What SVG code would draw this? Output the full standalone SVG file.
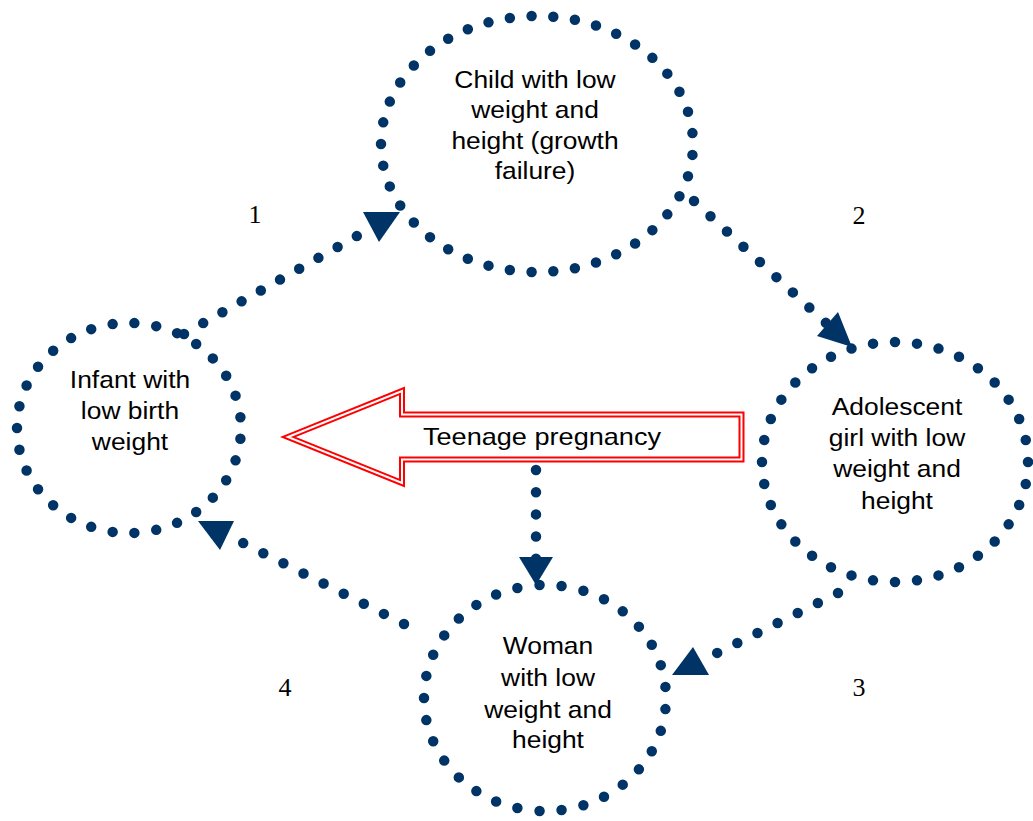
<svg xmlns="http://www.w3.org/2000/svg" width="1033" height="821" viewBox="0 0 1033 821">
<style>
.dot{fill:none;stroke:#003366;stroke-width:10.5;stroke-linecap:round;stroke-dasharray:0 1}
.head{fill:#003366;stroke:none}
.lbl{font-family:"Liberation Sans",Arial,sans-serif;font-size:24px;fill:#000;text-anchor:middle}
.num{font-family:"Liberation Serif","Times New Roman",serif;font-size:26px;fill:#000;text-anchor:middle}
</style>
<rect width="1033" height="821" fill="#fff"/>
<g id="connectors">
<path class="dot" pathLength="9.01" d="M184,334 L357,236"/>
<polygon class="head" points="363,212 400,212 379,242"/>
<path class="dot" pathLength="8.01" d="M694,201 L826,323"/>
<polygon class="head" points="817,336 838,312 852,347"/>
<path class="dot" pathLength="6.01" d="M838,593 L717,653"/>
<polygon class="head" points="693,647 672,675 709,675"/>
<path class="dot" pathLength="8.01" d="M404,624 L243,543"/>
<polygon class="head" points="198,521 234,521 220,550"/>
<path class="dot" pathLength="4.01" d="M536,470 L536,559"/>
<polygon class="head" points="519,557 553,557 536,585"/>
</g>
<g id="node-child">
<path class="dot" pathLength="41" d="M381,144 A156,128 0 1 0 693,144 A156,128 0 1 0 381,144 Z"/>
<text class="lbl" transform="translate(535 0) scale(1.1 1)"><tspan x="0" y="88">Child with low</tspan><tspan x="0" y="118.5">weight and</tspan><tspan x="0" y="149">height (growth</tspan><tspan x="0" y="179.5">failure)</tspan></text>
</g>
<g id="node-infant">
<path class="dot" pathLength="31" d="M17,428 A112,105 0 1 0 241,428 A112,105 0 1 0 17,428 Z"/>
<text class="lbl" transform="translate(130 0) scale(1.1 1)"><tspan x="0" y="388.5">Infant with</tspan><tspan x="0" y="419.5">low birth</tspan><tspan x="0" y="450.5">weight</tspan></text>
</g>
<g id="node-adolescent">
<path class="dot" pathLength="36" d="M762,462 A133,120 0 1 0 1028,462 A133,120 0 1 0 762,462 Z"/>
<text class="lbl" transform="translate(897 0) scale(1.1 1)"><tspan x="0" y="415">Adolescent</tspan><tspan x="0" y="446">girl with low</tspan><tspan x="0" y="477.5">weight and</tspan><tspan x="0" y="509">height</tspan></text>
</g>
<g id="node-woman">
<path class="dot" pathLength="33" d="M424,698 A121,113 0 1 0 666,698 A121,113 0 1 0 424,698 Z"/>
<text class="lbl" transform="translate(548 0) scale(1.1 1)"><tspan x="0" y="654.3">Woman</tspan><tspan x="0" y="686.5">with low</tspan><tspan x="0" y="717.7">weight and</tspan><tspan x="0" y="748.3">height</tspan></text>
</g>
<g id="teenage-pregnancy">
<polygon points="288,437 402,391 402,414.5 741.5,414.5 741.5,459.5 402,459.5 402,483" fill="#fff" stroke="#ff0000" stroke-width="6" stroke-linejoin="miter"/>
<polygon points="288,437 402,391 402,414.5 741.5,414.5 741.5,459.5 402,459.5 402,483" fill="none" stroke="#fff" stroke-width="2" stroke-linejoin="miter"/>
<text class="lbl" transform="translate(542 0) scale(1.13 1)"><tspan x="0" y="445">Teenage pregnancy</tspan></text>
</g>
<g id="numbers">
<text class="num" x="255" y="223">1</text>
<text class="num" x="859" y="224">2</text>
<text class="num" x="859" y="696">3</text>
<text class="num" x="285" y="696">4</text>
</g>
</svg>
